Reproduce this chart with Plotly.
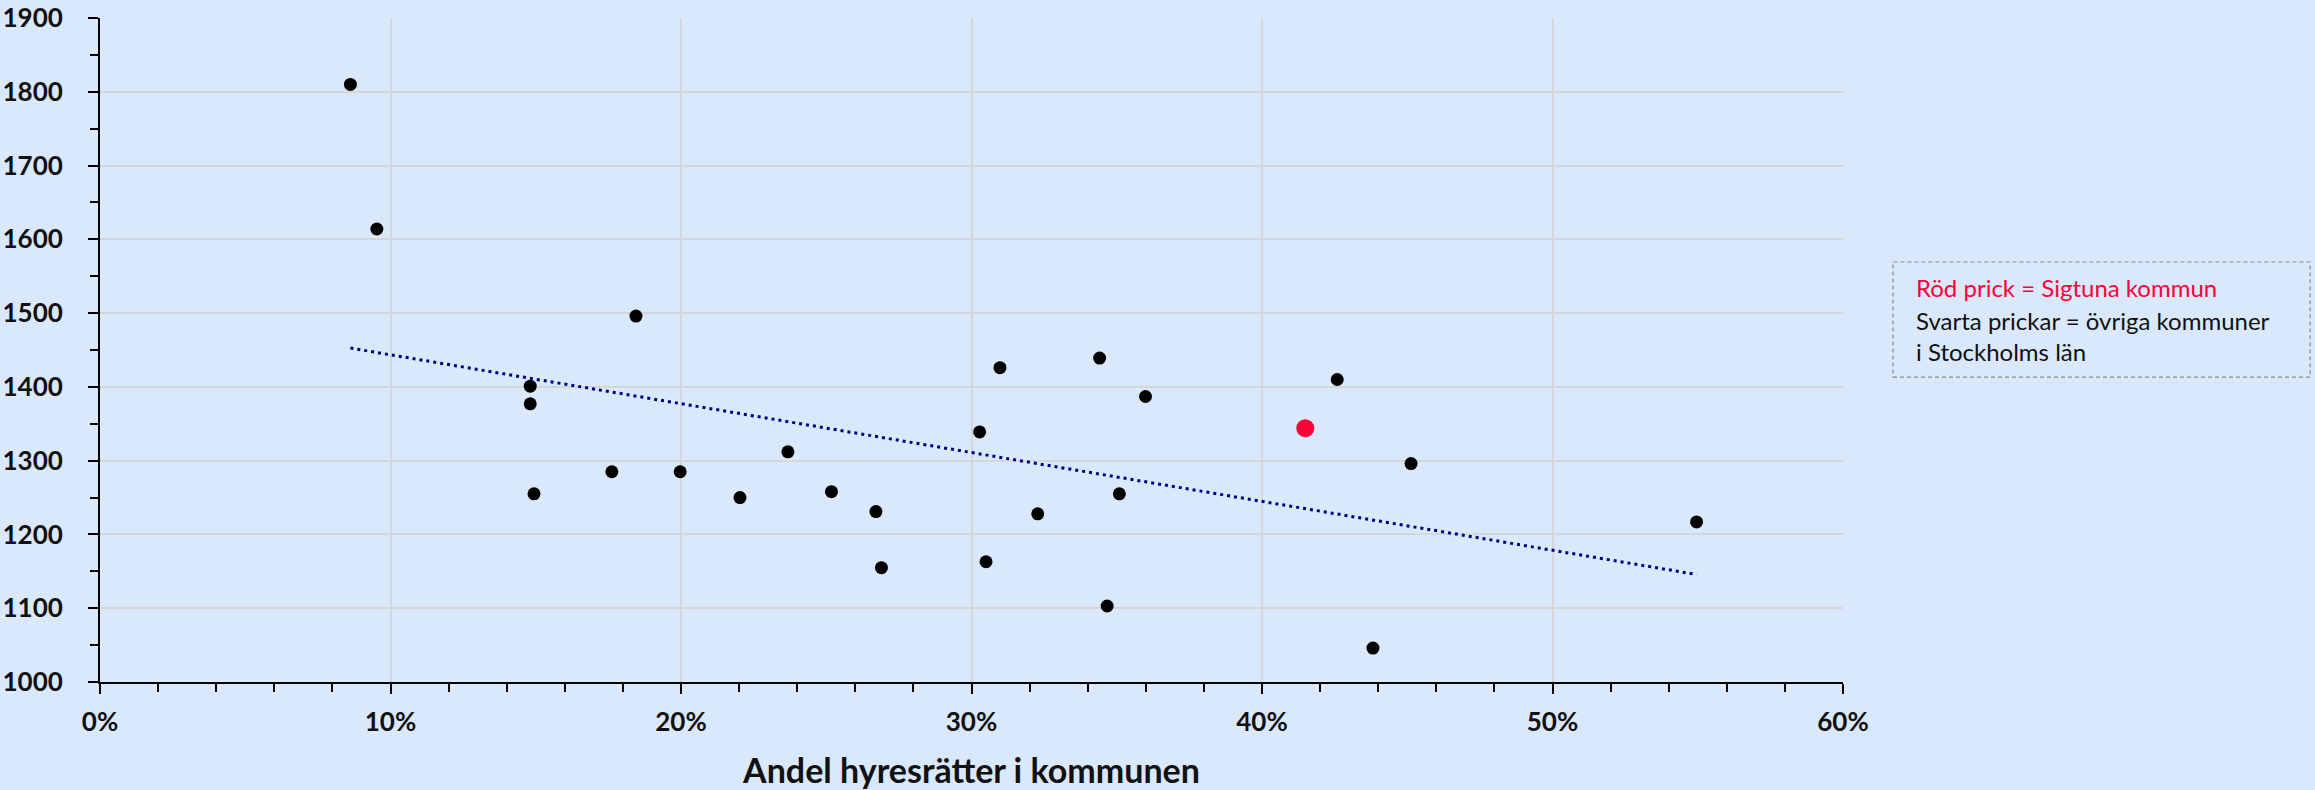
import numpy as np
import plotly.graph_objects as go

# Andel hyresrätter (%) and value for the other municipalities in Stockholms län
other_x = [8.62, 9.53, 14.81, 14.81, 14.94, 18.45, 17.62, 19.97, 22.03, 23.68,
           25.18, 26.71, 26.90, 30.28, 30.50, 30.98, 32.28, 34.41, 34.67, 35.09,
           35.99, 42.59, 43.82, 45.13, 54.96]
other_y = [1810, 1614, 1401, 1377, 1255, 1496, 1285, 1285, 1250, 1312,
           1258, 1231, 1155, 1339, 1163, 1426, 1228, 1439, 1103, 1255,
           1387, 1410, 1046, 1296, 1217]

# Sigtuna kommun
sigtuna_x = [41.49]
sigtuna_y = [1344]

x_ticks = [0, 10, 20, 30, 40, 50, 60]
y_ticks = [1000, 1100, 1200, 1300, 1400, 1500, 1600, 1700, 1800, 1900]

legend_lines = ["Röd prick = Sigtuna kommun",
                "Svarta prickar = övriga kommuner",
                "i Stockholms län"]
x_title = "Andel hyresrätter i kommunen"

BG = "#DAE8FC"
RED = "#FF0037"
FONT = "Lato"

all_x = np.array(other_x + sigtuna_x)
all_y = np.array(other_y + sigtuna_y)
slope, intercept = np.polyfit(all_x, all_y, 1)
tx = np.array([all_x.min(), all_x.max()])
ty = slope * tx + intercept

fig = go.Figure()
fig.add_trace(go.Scatter(x=tx, y=ty, mode="lines",
                         line=dict(color="#000080", width=3, dash="3px,4px"),
                         hoverinfo="skip", showlegend=False))
fig.add_trace(go.Scatter(x=other_x, y=other_y, mode="markers",
                         marker=dict(color="black", size=13),
                         showlegend=False))
fig.add_trace(go.Scatter(x=sigtuna_x, y=sigtuna_y, mode="markers",
                         marker=dict(color=RED, size=18),
                         showlegend=False))

axis_font = dict(family=FONT, size=26, color="#111111", weight="bold")

fig.update_xaxes(range=[0, 60], tickvals=x_ticks, ticktext=[f"{v}%" for v in x_ticks],
                 showline=True, linecolor="black", linewidth=2,
                 ticks="outside", ticklen=10, tickwidth=2, tickcolor="black",
                 minor=dict(dtick=2, ticks="outside", ticklen=8, tickwidth=2,
                            tickcolor="black", showgrid=False),
                 showgrid=True, gridcolor="#D6D6D6", gridwidth=1.5,
                 zeroline=False, tickfont=axis_font, ticklabelstandoff=6,
                 title=dict(text=x_title, standoff=26,
                            font=dict(family=FONT, size=34, color="#111111", weight="bold")))
fig.update_yaxes(range=[1000, 1900], tickvals=y_ticks,
                 showline=True, linecolor="black", linewidth=2,
                 ticks="outside", ticklen=10, tickwidth=2, tickcolor="black",
                 minor=dict(dtick=50, ticks="outside", ticklen=8, tickwidth=2,
                            tickcolor="black", showgrid=False),
                 showgrid=True, gridcolor="#D6D6D6", gridwidth=1.5,
                 zeroline=False, tickfont=axis_font, ticklabelstandoff=20)

# legend box
fig.add_shape(type="rect", xref="paper", yref="paper",
              x0=1.0287, x1=1.268, y0=0.459, y1=0.6325,
              line=dict(color="#8A8A8A", width=1.2, dash="4px,3px"),
              fillcolor=BG, layer="above")
ys = [0.5934, 0.5437, 0.497]
cols = [RED, "#111111", "#111111"]
for txt, yy, c in zip(legend_lines, ys, cols):
    fig.add_annotation(text=txt, xref="paper", yref="paper", x=1.0407, y=yy,
                       xanchor="left", yanchor="middle", showarrow=False,
                       font=dict(family=FONT, size=24, color=c))

fig.update_layout(width=2315, height=790,
                  margin=dict(l=100, r=472, t=18, b=108, autoexpand=False),
                  paper_bgcolor=BG, plot_bgcolor=BG,
                  showlegend=False)

fig.write_html("out.html", config={"displayModeBar": False},
               post_script="document.body.style.margin='0';"
                           "document.body.style.background='" + BG + "';"
                           "document.body.style.overflow='hidden';")
